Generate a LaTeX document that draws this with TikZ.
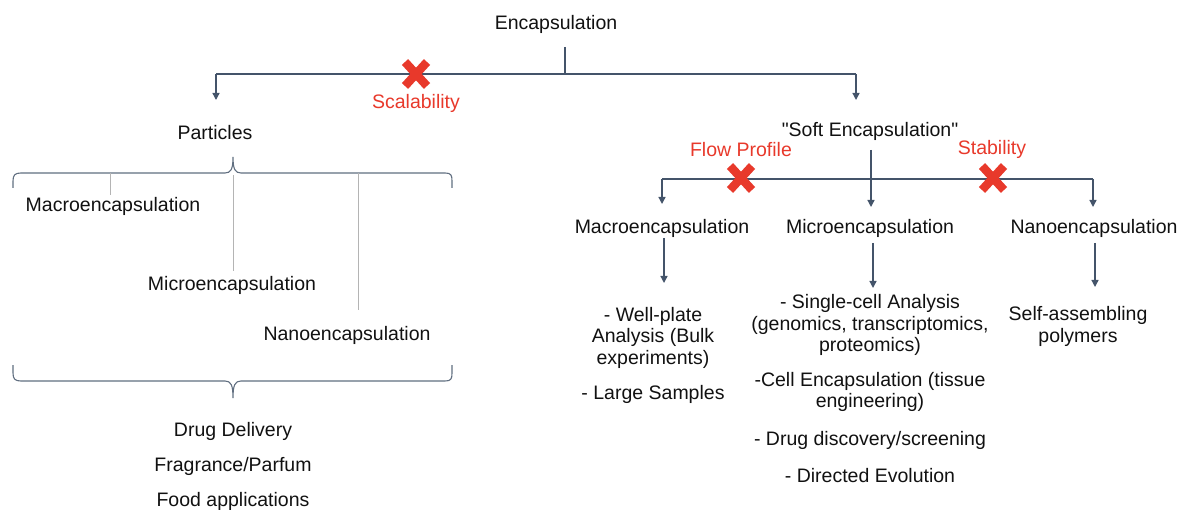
\documentclass[tikz,border=0pt]{standalone}
\usepackage{fontspec}
\setmainfont{Liberation Sans}[Ligatures=TeXOff]
\usetikzlibrary{arrows.meta}
\definecolor{link}{HTML}{44546A}
\definecolor{warn}{HTML}{E8392B}
\definecolor{guide}{HTML}{B4B4B4}
\definecolor{ink}{HTML}{111111}
\begin{document}
\begin{tikzpicture}[x=1pt,y=-1pt,
  lbl/.style={inner sep=0pt, text=ink, font=\fontsize{19.5}{21.5}\selectfont, align=center, yshift=-1.5pt},
  warnlbl/.style={lbl, text=warn},
  bar/.style={draw=link, line width=1.3pt},
  arr/.style={bar, -{Triangle[width=7pt,length=7pt]}},
  brace/.style={draw=link!85, line width=1.1pt},
  guideline/.style={draw=guide, line width=0.9pt},
  xstroke/.style={draw=warn, line width=8.5pt, line cap=butt},
]
\useasboundingbox (0,0) rectangle (1182,510);

% ---- top level ----
\node[lbl] (enc) at (556,23) {Encapsulation};
\node[lbl] (particles) at (215,131) {Particles};
\node[lbl] (soft) at (870,130) {"Soft Encapsulation"};

\coordinate (encstem) at (565,47);
\coordinate (tS) at (565,74);
\coordinate (tL) at (216,74);
\coordinate (tR) at (856,74);
\coordinate (tLend) at (216,100);
\coordinate (tRend) at (856,100);
\draw[bar] (encstem) -- (tS);
\draw[bar] (tL) -- (tR);
\draw[arr] (tL) -- (tLend);
\draw[arr] (tR) -- (tRend);

\coordinate (x1) at (416,74);
\node[warnlbl] (scal) at (416,102) {Scalability};

% ---- particles branch ----
\draw[brace] (13,188) -- (13,181) .. controls (13,175) and (15,173) .. (21,173)
  -- (225,173) .. controls (231,173) and (233,169) .. (233,157)
  .. controls (233,169) and (235,173) .. (241,173)
  -- (445,173) .. controls (451,173) and (452,175) .. (452,181) -- (452,188);

\node[lbl] (pmacro) at (113,205) {Macroencapsulation};
\node[lbl] (pmicro) at (232,284) {Microencapsulation};
\node[lbl] (pnano) at (347,334) {Nanoencapsulation};

\coordinate (g1) at (110,173);
\coordinate (g2) at (233,175);
\coordinate (g3) at (358,173);
\draw[guideline] (g1) -- (g1 |- 0,195);
\draw[guideline] (g2) -- (g2 |- 0,271);
\draw[guideline] (g3) -- (g3 |- 0,310);

\draw[brace] (13,365) -- (13,373) .. controls (13,379) and (15,381) .. (21,381)
  -- (225,381) .. controls (231,381) and (233,385) .. (233,398)
  .. controls (233,385) and (235,381) .. (241,381)
  -- (445,381) .. controls (451,381) and (452,379) .. (452,373) -- (452,365);

\node[lbl] (use1) at (233,430) {Drug Delivery};
\node[lbl] (use2) at (233,465) {Fragrance/Parfum};
\node[lbl] (use3) at (233,500) {Food applications};

% ---- soft encapsulation branch ----
\coordinate (sstem) at (871,150);
\coordinate (sS) at (871,179);
\coordinate (sL) at (662,179);
\coordinate (sR) at (1093,179);
\draw[bar] (sstem) -- (sS);
\draw[bar] (sL) -- (sR);

\node[lbl] (smacro) at (662,227) {Macroencapsulation};
\node[lbl] (smicro) at (870,227) {Microencapsulation};
\node[lbl] (snano) at (1094,227) {Nanoencapsulation};

\draw[arr] (sL) -- (662,204);
\draw[arr] (sS) -- (871,207);
\draw[arr] (sR) -- (1093,207);

\coordinate (x2) at (741,178);
\coordinate (x3) at (993,178);
\node[warnlbl] (flow) at (741,148) {Flow Profile};
\node[warnlbl] (stab) at (992,148) {Stability};

% applications
\node[lbl] (ma1) at (653,336) {- Well-plate\\Analysis (Bulk\\experiments)};
\node[lbl] (ma2) at (653,393) {- Large Samples};

\node[lbl] (mi1) at (870,323.5) {- Single-cell Analysis\\(genomics, transcriptomics,\\proteomics)};
\node[lbl] (mi2) at (870,390.5) {-Cell Encapsulation (tissue\\engineering)};
\node[lbl] (mi3) at (870,439) {- Drug discovery/screening};
\node[lbl] (mi4) at (870,474) {- Directed Evolution};

\node[lbl] (na1) at (1078,325) {Self-assembling\\polymers};

\coordinate (ma0) at (664,238);
\coordinate (mi0) at (873,243);
\coordinate (na0) at (1095,243);
\draw[arr] (ma0) -- (ma0 |- 0,283);
\draw[arr] (mi0) -- (mi0 |- 0,288);
\draw[arr] (na0) -- (na0 |- 0,287);

% ---- red crosses on blocked paths ----
\foreach \c in {x1,x2,x3}
  \draw[xstroke] ([shift={(-11,-12)}]\c) -- ([shift={(11,12)}]\c)
                 ([shift={(-11,12)}]\c) -- ([shift={(11,-12)}]\c);
\end{tikzpicture}
\end{document}
